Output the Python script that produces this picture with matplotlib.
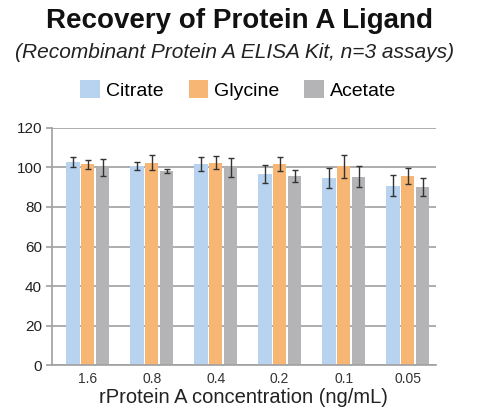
import numpy as np
import matplotlib
matplotlib.use("Agg")
import matplotlib.pyplot as plt

plt.rcParams["font.family"] = ["Liberation Sans", "DejaVu Sans"]

concentrations = ["1.6", "0.8", "0.4", "0.2", "0.1", "0.05"]
series_names = ["Citrate", "Glycine", "Acetate"]
citrate = [102.7, 100.5, 101.8, 96.5, 94.8, 90.8]
glycine = [101.5, 102.4, 102.3, 101.6, 100.5, 95.7]
acetate = [99.9, 98.3, 100.0, 95.6, 95.3, 90.2]
citrate_err = [2.5, 2.0, 3.5, 4.5, 5.0, 5.2]
glycine_err = [2.4, 3.8, 3.3, 3.6, 6.0, 4.0]
acetate_err = [4.2, 1.0, 4.8, 3.2, 5.3, 4.5]

colors = ["#b8d3f0", "#f7b674", "#b4b4b6"]

fig = plt.figure(figsize=(4.8, 4.15), dpi=100)
ax = fig.add_axes([0.108, 0.12, 0.80, 0.572])

x = np.arange(len(concentrations))
width = 0.21
step = 0.232
values = [citrate, glycine, acetate]
errors = [citrate_err, glycine_err, acetate_err]
for i, (vals, errs) in enumerate(zip(values, errors)):
    ax.bar(x + (i - 1) * step + 0.06, vals, width, color=colors[i],
           label=series_names[i], zorder=2,
           yerr=errs, error_kw=dict(ecolor="#333333", elinewidth=1.0,
                                    capsize=2.5, capthick=1.0, zorder=3))

ax.set_xlim(-0.5, 5.5)
ax.set_ylim(0, 120)
ax.set_yticks(range(0, 121, 20))
ax.set_xticks(x + 0.06)
ax.set_xticklabels(concentrations, fontsize=10, color="#333333")
ax.tick_params(axis="y", labelsize=11, colors="#222222", length=4, width=1.2,
               color="#a0a0a0", pad=3)
ax.tick_params(axis="x", length=0, pad=5)
ax.grid(axis="y", color="#a0a0a0", lw=1.2, zorder=0)
for s in ["top", "right"]:
    ax.spines[s].set_visible(False)
ax.spines["left"].set_color("#a0a0a0")
ax.spines["bottom"].set_color("#a0a0a0")
ax.spines["left"].set_linewidth(1.2)
ax.spines["bottom"].set_linewidth(1.2)
ax.set_xlabel("rProtein A concentration (ng/mL)", fontsize=14.5, labelpad=1,
              color="#222222")

fig.text(0.5, 0.932, "Recovery of Protein A Ligand", ha="center",
         fontsize=20, fontweight="bold", color="#111111")
fig.text(0.488, 0.86, "(Recombinant Protein A ELISA Kit, n=3 assays)",
         ha="center", fontsize=15, style="italic", color="#222222")
fig.legend(loc="center", bbox_to_anchor=(0.496, 0.783), ncol=3, frameon=False,
           fontsize=14, handlelength=1.0, handleheight=1.0, columnspacing=1.3,
           handletextpad=0.3)

fig.savefig("out.png", dpi=100)
